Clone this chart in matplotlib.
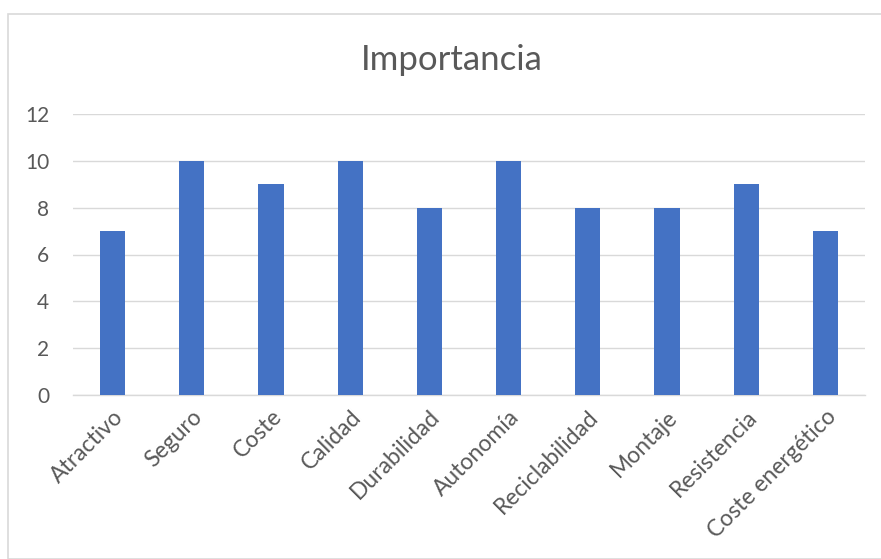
import matplotlib.pyplot as plt
from matplotlib.patches import Rectangle

# Importancia de cada criterio
categories = ["Atractivo", "Seguro", "Coste", "Calidad", "Durabilidad",
              "Autonomía", "Reciclabilidad", "Montaje", "Resistencia",
              "Coste energético"]
values = [7, 10, 9, 10, 8, 10, 8, 8, 9, 7]
yticks = [0, 2, 4, 6, 8, 10, 12]

plt.rcParams['font.family'] = ['Lato', 'DejaVu Sans']

W, H = 881, 559
fig = plt.figure(figsize=(W / 100, H / 100), dpi=100)

# chart border (Excel-style)
fig.patches.append(Rectangle((8 / W, 0), 1.2, 1 - 14 / H, transform=fig.transFigure,
                             fill=False, edgecolor="#D9D9D9", linewidth=1.2))

ax = fig.add_axes([73 / W, 1 - 395 / H, (865 - 73) / W, (395 - 114) / H])
x = range(len(categories))
ax.bar(x, values, width=0.32, color="#4472C4", zorder=3)

ax.set_xlim(-0.5, len(categories) - 0.5)
ax.set_ylim(0, 12)
ax.set_yticks(yticks)
ax.yaxis.grid(True, color="#D9D9D9", linewidth=1, zorder=0)
for s in ["top", "right", "left"]:
    ax.spines[s].set_visible(False)
ax.spines["bottom"].set_color("#D9D9D9")
ax.spines["bottom"].set_linewidth(1)
ax.tick_params(axis="both", length=0, labelsize=15, colors="#595959")
ax.tick_params(axis="y", pad=17)
ax.set_xticks(list(x))
ax.set_xticklabels(categories, rotation=45, ha="right", rotation_mode="anchor",
                   fontsize=16.5)
ax.tick_params(axis="x", pad=8)

fig.text(452 / W, 1 - 60 / H, "Importancia", ha="center", va="center",
         fontsize=25, color="#595959")

fig.savefig("out.png", dpi=100)
